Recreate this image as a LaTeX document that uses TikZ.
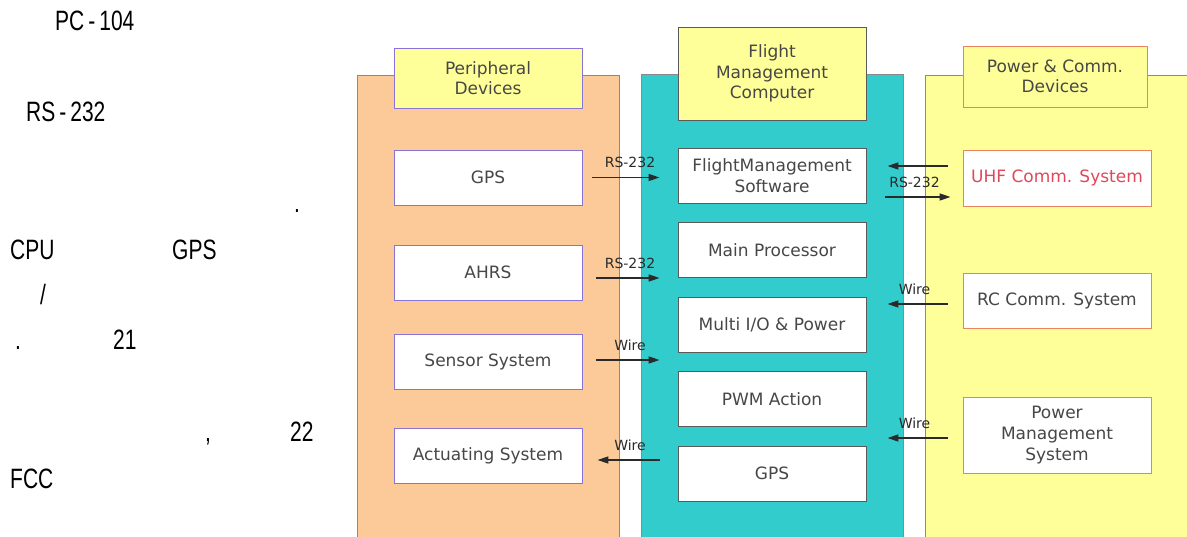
\documentclass[tikz,border=0pt]{standalone}
\usepackage{fontspec}
\setmainfont{DejaVu Sans}
\newfontfamily\bodyfont[FakeStretch=0.75]{Liberation Sans}
\usetikzlibrary{arrows.meta}
\definecolor{periphfill}{HTML}{FCCA98}
\definecolor{fmcfill}{HTML}{33CCCC}
\definecolor{powerfill}{HTML}{FFFF99}
\definecolor{headfill}{HTML}{FFFF99}
\definecolor{panelline}{HTML}{8A8A8A}
\definecolor{periphline}{HTML}{8A73D8}
\definecolor{fmcline}{HTML}{5A5A5A}
\definecolor{powerline}{HTML}{E8845E}
\definecolor{textgray}{HTML}{474747}
\definecolor{arrowgray}{HTML}{2A2A2A}
\definecolor{uhfred}{HTML}{E0485A}
\newcommand{\sephy}{\kern4pt-\kern4pt}

\begin{document}
\begin{tikzpicture}[x=1pt, y=-1pt, >={Triangle[length=11pt,width=7pt]}]
    \tikzset{
      panel/.style={draw=panelline, line width=0.8pt, anchor=north west, inner sep=0pt, minimum width=262pt, minimum height=480pt},
      head/.style={draw, fill=headfill, line width=0.8pt, minimum width=188pt, align=center, inner sep=0pt, text=textgray, font=\fontsize{17}{20.5}\selectfont},
      unit/.style={draw, fill=white, line width=0.9pt, minimum width=188pt, minimum height=55pt, align=center, inner sep=0pt, text=textgray, font=\fontsize{17}{21}\selectfont},
      link/.style={->, line width=1.2pt, draw=arrowgray},
      tag/.style={text=arrowgray, inner sep=0pt, font=\fontsize{14}{14}\selectfont},
      para/.style={anchor=base west, inner sep=0pt, font=\bodyfont\fontsize{28}{28}\selectfont}
    }
    \useasboundingbox (0,0) rectangle (1187,537);

    \node[para] (t1) at (55,31) {PC\sephy 104};
    \node[para] (t2) at (26,122) {RS\sephy 232};
    \node[para] (t3) at (294,213) {.};
    \node[para] (t4) at (10,260) {CPU};
    \node[para] (t5) at (172,260) {GPS};
    \node[para] (t6) at (40,305) {/};
    \node[para] (t7) at (15,350) {.};
    \node[para] (t8) at (113,350) {21};
    \node[para] (t9) at (205,442) {,};
    \node[para] (t10) at (290,442) {22};
    \node[para] (t11) at (10,488) {FCC};

    \node[panel, fill=periphfill] (periph) at (357,75) {};
    \node[panel, fill=fmcfill] (fmc) at (641,74) {};
    \node[panel, fill=powerfill] (power) at (925,75) {};

    \node[head, draw=periphline, minimum height=60pt] (periphhead) at (488,78) {Peripheral\\Devices};
    \node[head, draw=fmcline, minimum height=93pt] (fmchead) at (772,73.5) {Flight\\Management\\Computer};
    \node[head, draw=powerline, minimum width=184pt, minimum height=61pt] (powerhead) at (1055,76.5) {Power \& Comm.\\Devices};

    \node[unit, draw=periphline] (gps) at (488,177.5) {GPS};
    \node[unit, draw=periphline] (ahrs) at (488,272.5) {AHRS};
    \node[unit, draw=periphline] (sensor) at (488,361.5) {Sensor System};
    \node[unit, draw=periphline] (actuate) at (488,456) {Actuating System};

    \node[unit, draw=fmcline] (fms) at (772,176) {FlightManagement\\Software};
    \node[unit, draw=fmcline] (cpu) at (772,250) {Main Processor};
    \node[unit, draw=fmcline] (mio) at (772,325) {Multi I/O \& Power};
    \node[unit, draw=fmcline] (pwm) at (772,399) {PWM Action};
    \node[unit, draw=fmcline] (fgps) at (772,473.5) {GPS};

    \node[unit, draw=powerline, text=uhfred, minimum height=56pt] (uhf) at (1057,178) {UHF Comm. System};
    \node[unit, draw=powerline] (rc) at (1057,300.5) {RC Comm. System};
    \node[unit, draw=powerline, minimum height=76pt] (pms) at (1057,435) {Power\\Management\\System};

    \draw[link, shorten <=10pt, shorten >=18pt] (gps.east) -- (gps.east -| fms.west) node[tag, midway, above=9pt] {RS-232};
    \draw[link, shorten <=14pt, shorten >=18pt] ([yshift=-5.5pt]ahrs.east) -- ([yshift=-5.5pt]ahrs.east -| fms.west) node[tag, midway, above=9pt] {RS-232};
    \draw[link, shorten <=14pt, shorten >=18pt] ([yshift=1.5pt]sensor.east) -- ([yshift=1.5pt]sensor.east -| fms.west) node[tag, midway, above=9pt] {Wire};
    \draw[link, shorten <=18pt, shorten >=15pt] ([yshift=-4pt]actuate.east -| fgps.west) -- ([yshift=-4pt]actuate.east) node[tag, midway, above=9pt] {Wire};

    \draw[link, shorten <=15pt, shorten >=21pt] ([yshift=12pt]uhf.west) -- ([yshift=12pt]uhf.west -| fms.east);
    \draw[link, shorten <=19pt, shorten >=12pt] ([yshift=-19pt]uhf.west -| fms.east) -- ([yshift=-19pt]uhf.west) node[tag, midway, above=9pt] {RS-232};
    \draw[link, shorten <=15pt, shorten >=21pt] ([yshift=-3.5pt]rc.west) -- ([yshift=-3.5pt]rc.west -| mio.east) node[tag, midway, above=9pt] {Wire};
    \draw[link, shorten <=15pt, shorten >=21pt] ([yshift=-3pt]pms.west) -- ([yshift=-3pt]pms.west -| pwm.east) node[tag, midway, above=9pt] {Wire};
\end{tikzpicture}
\end{document}
